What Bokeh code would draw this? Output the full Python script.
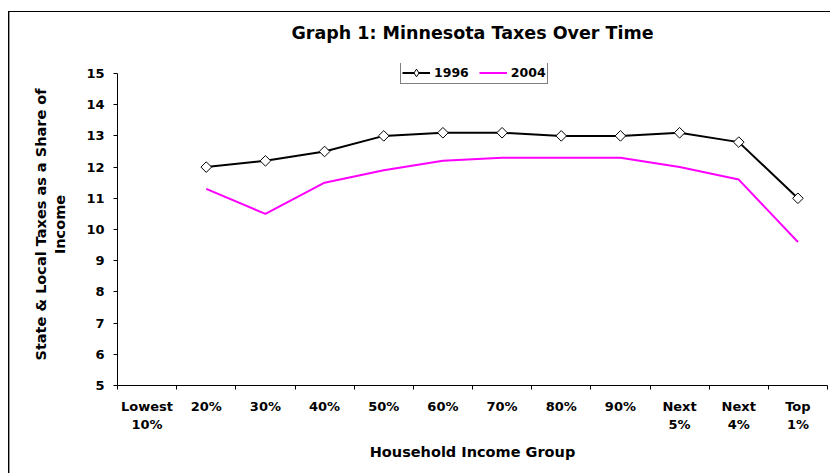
import numpy as np
from bokeh.plotting import figure
from bokeh.models import (Range1d, FixedTicker, CustomJSTickFormatter, Legend,
                          LegendItem, ColumnDataSource)
from bokeh.embed import file_html
from bokeh.resources import INLINE

# ---- data ----
categories = ["Lowest\n10%", "20%", "30%", "40%", "50%", "60%", "70%", "80%",
              "90%", "Next\n5%", "Next\n4%", "Top\n1%"]
taxes_1996 = [np.nan, 12.0, 12.2, 12.5, 13.0, 13.1, 13.1, 13.0, 13.0, 13.1, 12.8, 11.0]
taxes_2004 = [np.nan, 11.3, 10.5, 11.5, 11.9, 12.2, 12.3, 12.3, 12.3, 12.0, 11.6, 9.6]
y_ticks = [5, 6, 7, 8, 9, 10, 11, 12, 13, 14, 15]
series_names = ["1996", "2004"]

FONT = "DejaVu Sans"
n = len(categories)
xs = [i + 0.5 for i in range(n)]
src = ColumnDataSource(dict(x=xs, y96=taxes_1996, y04=taxes_2004))

# frame extends a little above the top tick so the legend can overlap it
p = figure(width=830, height=473, output_backend="svg", toolbar_location=None,
           x_range=Range1d(0, n), y_range=Range1d(y_ticks[0], y_ticks[-1] + 0.32),
           min_border_left=117, min_border_right=3, min_border_top=61,
           min_border_bottom=88)
# chart-area border (top and left edges visible in the window)
p.styles = {"box-shadow": "inset 8px 11px 0 0 #ffffff, inset 9px 12px 0 0 #000000, "
                          "inset 10px 12px 0 0 #999999"}
p.border_fill_color = None
p.background_fill_color = "white"
p.outline_line_color = None
p.grid.visible = False

p.title.text = "Graph 1: Minnesota Taxes Over Time"
p.title.align = "center"
p.title.text_font = FONT
p.title.text_font_size = "17.5px"
p.title.text_font_style = "bold"
p.title.text_color = "black"
p.title.standoff = 41

l96 = p.line("x", "y96", source=src, line_color="black", line_width=2)
# small diamonds (hidden beneath the rotated squares) give the legend its diamond swatch
key96 = p.scatter("x", "y96", source=src, marker="diamond", size=5,
                  fill_color="white", line_color="black", line_width=1)
m96 = p.scatter("x", "y96", source=src, marker="square", angle=np.pi / 4, size=7.5,
                fill_color="white", line_color="black", line_width=1)
l04 = p.line("x", "y04", source=src, line_color="#FF00FF", line_width=2)

# x axis
xa = p.xaxis[0]
xa.ticker = FixedTicker(ticks=xs, minor_ticks=list(range(n + 1)))
xa.formatter = CustomJSTickFormatter(args=dict(labels=categories),
                                     code="return labels[Math.floor(tick)];")
xa.major_tick_out = 0
xa.major_tick_in = 0
xa.minor_tick_out = 4
xa.minor_tick_in = 0
xa.minor_tick_line_color = "black"
xa.axis_label = "Household Income Group"
xa.major_label_standoff = 9
xa.axis_label_standoff = 9

# y axis
ya = p.yaxis[0]
ya.ticker = FixedTicker(ticks=y_ticks)
ya.bounds = (y_ticks[0], y_ticks[-1])
ya.major_tick_out = 4
ya.major_tick_in = 0
ya.minor_tick_line_color = None
ya.major_label_standoff = 9
ya.axis_label = "State & Local Taxes as a Share of\nIncome"
ya.axis_label_standoff = 15

for ax in (xa, ya):
    ax.axis_line_color = "black"
    ax.major_tick_line_color = "black"
    ax.major_label_text_font = FONT
    ax.major_label_text_font_size = "13px"
    ax.major_label_text_font_style = "bold"
    ax.major_label_text_color = "black"
    ax.axis_label_text_font = FONT
    ax.axis_label_text_font_size = "14.5px"
    ax.axis_label_text_font_style = "bold"
    ax.axis_label_text_color = "black"

legend = Legend(items=[LegendItem(label=series_names[0], renderers=[l96, key96]),
                       LegendItem(label=series_names[1], renderers=[l04])],
                orientation="horizontal", location=(283, 301))
legend.label_text_font = FONT
legend.label_text_font_size = "12.5px"
legend.label_text_font_style = "bold"
legend.label_text_color = "black"
legend.glyph_width = 28
legend.glyph_height = 19
legend.label_height = 19
legend.label_standoff = 4
legend.spacing = 10
legend.padding = 1
legend.margin = 0
legend.border_line_color = "black"
legend.border_line_width = 1
legend.background_fill_alpha = 1
p.add_layout(legend, "center")

open("out.html", "w").write(file_html(p, INLINE))
